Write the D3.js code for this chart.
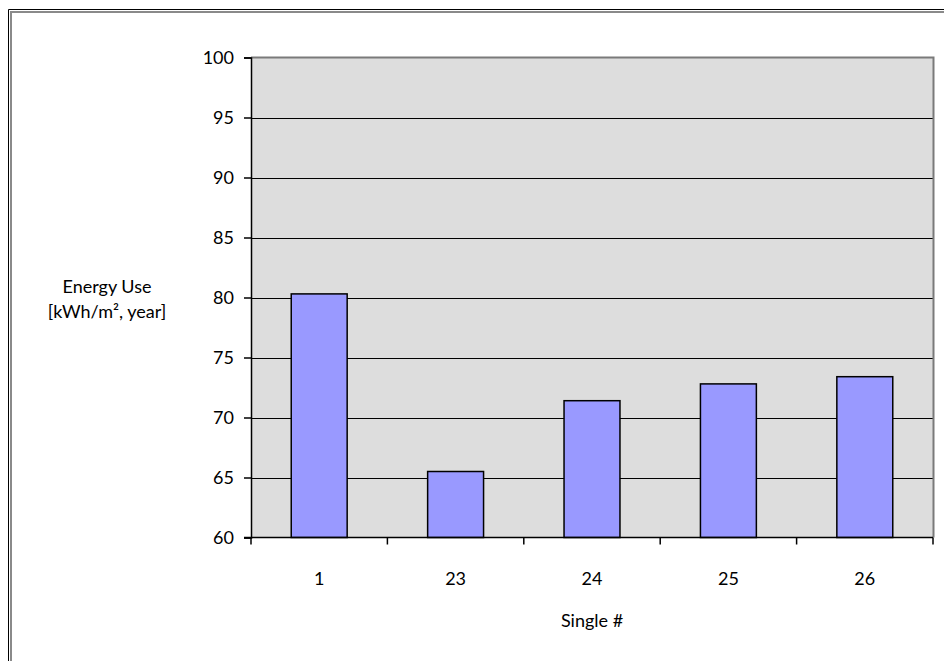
<!DOCTYPE html>
<html>
<head>
<meta charset="utf-8">
<script src="https://cdn.jsdelivr.net/npm/d3@7"></script>
<style>
  html, body { margin: 0; padding: 0; background: #ffffff; overflow: hidden; }
  svg { display: block; }
  text { font-family: Lato, "Open Sans", "DejaVu Sans", sans-serif; fill: #000; }
</style>
</head>
<body>
<script>
// Energy use per single-family house
const categories = ["1", "23", "24", "25", "26"];
const energyUse = [80.3, 65.5, 71.4, 72.8, 73.4];
const yTicks = [60, 65, 70, 75, 80, 85, 90, 95, 100];

const W = 944, H = 661;
const plot = { left: 251, right: 933, top: 57.5, bottom: 537.5 };
const FS = 18;

const svg = d3.select("body").append("svg")
  .attr("width", W).attr("height", H);

// chart frame: double line along the top and left edges
svg.append("path").attr("d", `M8.5,${H}V9.5H${W}`)
  .attr("fill", "none").attr("stroke", "#000").attr("stroke-width", 1);
svg.append("path").attr("d", `M11,${H}V12H${W}`)
  .attr("fill", "none").attr("stroke", "#8a8a8a").attr("stroke-width", 2);

const x = d3.scaleBand().domain(categories)
  .range([plot.left, plot.right]).paddingInner(0.59).paddingOuter(0.295);
const xOuter = d3.scaleBand().domain(categories).range([plot.left, plot.right]);
const y = d3.scaleLinear().domain([60, 100]).range([plot.bottom, plot.top]);

// plot background
svg.append("rect")
  .attr("x", plot.left).attr("y", plot.top)
  .attr("width", plot.right - plot.left).attr("height", plot.bottom - plot.top)
  .attr("fill", "#dddddd");

// horizontal gridlines
svg.append("g").selectAll("line").data(yTicks.filter(d => d > 60 && d < 100)).join("line")
  .attr("x1", plot.left).attr("x2", plot.right)
  .attr("y1", d => Math.round(y(d)) + 0.5).attr("y2", d => Math.round(y(d)) + 0.5)
  .attr("stroke", "#000").attr("stroke-width", 1);

// plot border (top and right)
svg.append("path")
  .attr("d", `M${plot.left},${plot.top}H${plot.right + 0.5}V${plot.bottom}`)
  .attr("fill", "none").attr("stroke", "#7a7a7a").attr("stroke-width", 2);

// bars
svg.append("g").selectAll("rect").data(energyUse).join("rect")
  .attr("x", (d, i) => x(categories[i]))
  .attr("y", d => y(d))
  .attr("width", x.bandwidth())
  .attr("height", d => y(60) - y(d))
  .attr("fill", "#9999ff")
  .attr("stroke", "#000").attr("stroke-width", 1.5);

// y axis
const yAxis = svg.append("g")
  .attr("transform", `translate(${plot.left},0)`)
  .call(d3.axisLeft(y).tickValues(yTicks).tickSize(7).tickPadding(10).tickFormat(d3.format("d")));
yAxis.select(".domain").attr("stroke", "#000").attr("stroke-width", 1.5);
yAxis.selectAll(".tick line").attr("stroke", "#000").attr("stroke-width", 1.5);
yAxis.selectAll(".tick text").attr("font-size", FS).attr("font-family", "Lato, 'Open Sans', sans-serif");

// x axis with tick marks at category boundaries
const xAxis = svg.append("g").attr("transform", `translate(0,${plot.bottom})`);
xAxis.append("line").attr("x1", plot.left - 7).attr("x2", plot.right)
  .attr("stroke", "#000").attr("stroke-width", 1.5);
const bounds = categories.map(c => xOuter(c)).concat([plot.right]);
xAxis.selectAll("line.tk").data(bounds).join("line").attr("class", "tk")
  .attr("x1", d => d).attr("x2", d => d).attr("y1", 0).attr("y2", 7)
  .attr("stroke", "#000").attr("stroke-width", 1.5);
xAxis.selectAll("text").data(categories).join("text")
  .attr("x", d => xOuter(d) + xOuter.bandwidth() / 2)
  .attr("y", 47)
  .attr("text-anchor", "middle").attr("font-size", FS)
  .text(d => d);

// axis titles
const yTitle = svg.append("text").attr("text-anchor", "middle").attr("font-size", FS);
yTitle.append("tspan").attr("x", 107).attr("y", 293).text("Energy Use");
yTitle.append("tspan").attr("x", 107).attr("y", 318).text("[kWh/m², year]");

svg.append("text").attr("x", 592).attr("y", 627)
  .attr("text-anchor", "middle").attr("font-size", FS).text("Single #");
</script>
</body>
</html>
